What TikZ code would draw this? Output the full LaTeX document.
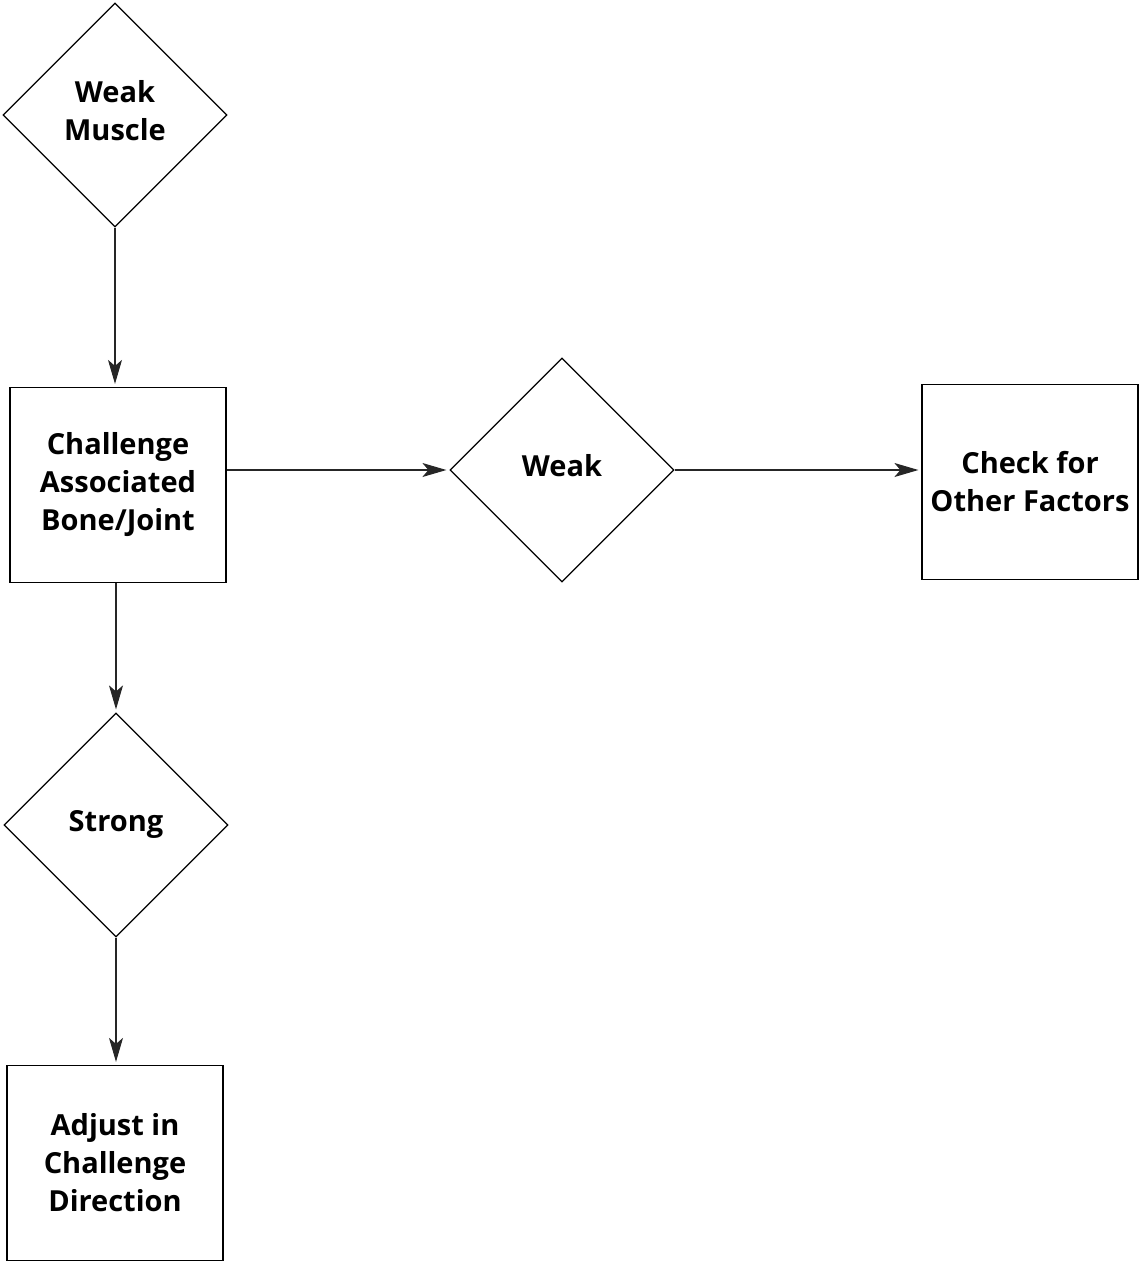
\documentclass[tikz,border=0pt]{standalone}
\usepackage{fontspec}
\setmainfont{Open Sans}
\usetikzlibrary{arrows.meta,positioning,calc,shapes.geometric}
\tikzset{
  dnode/.style={diamond, draw, line width=1.2pt, minimum width=224pt, minimum height=224pt, inner sep=0pt, align=center, font=\fontsize{29}{38}\selectfont\bfseries},
  bnode/.style={rectangle, draw, line width=1.2pt, minimum width=216pt, minimum height=195pt, inner sep=0pt, align=center, font=\fontsize{29}{38}\selectfont\bfseries},
  farr/.style={-{Stealth[length=24pt, width=14pt, inset=6pt]}, line width=1.1pt, black!85, shorten >=3pt},
}

\begin{document}
\begin{tikzpicture}[x=1pt, y=-1pt]
  \useasboundingbox (0,0) rectangle (1141,1262);
  \node[dnode] (wm) at (115,115) {Weak\\Muscle\\[-29pt]};
  \node[bnode] (ch) at (118,485) {Challenge\\Associated\\Bone/Joint};
  \node[dnode] (wk) at (562,470) {Weak\\[-29pt]};
  \node[bnode] (of) at (1030,482) {Check for\\Other Factors};
  \node[dnode] (st) at (116,825) {Strong\\[-29pt]};
  \node[bnode] (ad) at (115,1163) {Adjust in\\Challenge\\Direction};
  \draw[farr] (wm.south) -- (wm.south |- ch.north);
  \draw[farr] (ch.east |- wk.west) -- (wk.west);
  \draw[farr] (wk.east) -- (wk.east -| of.west);
  \draw[farr] (ch.south -| st.north) -- (st.north);
  \draw[farr] (st.south) -- (st.south |- ad.north);
\end{tikzpicture}
\end{document}
